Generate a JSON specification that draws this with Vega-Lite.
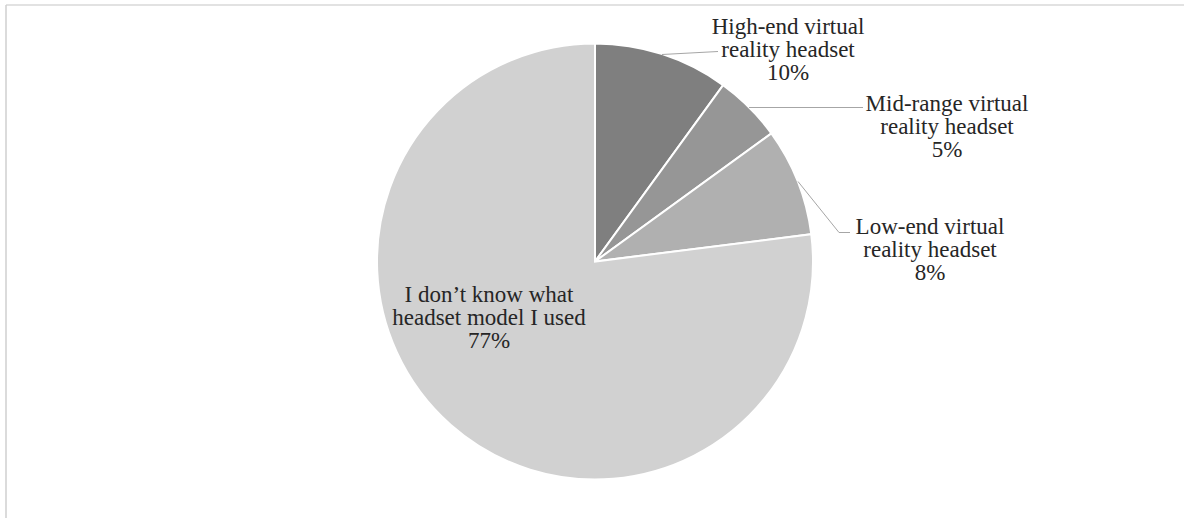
{
  "$schema": "https://vega.github.io/schema/vega-lite/v6.json",
  "width": 1178,
  "height": 513,
  "autosize": {"type": "none"},
  "padding": {"left": 6, "top": 5, "right": 0, "bottom": 0},
  "background": "white",
  "view": {"stroke": null},
  "config": {"view": {"stroke": null}},
  "data": {
    "values": [
      {"category": "High-end virtual reality headset", "value": 10, "rank": 1, "label": "High-end virtual\nreality headset\n10%"},
      {"category": "Mid-range virtual reality headset", "value": 5, "rank": 2, "label": "Mid-range virtual\nreality headset\n5%"},
      {"category": "Low-end virtual reality headset", "value": 8, "rank": 3, "label": "Low-end virtual\nreality headset\n8%"},
      {"category": "I don’t know what headset model I used", "value": 77, "rank": 4, "label": "I don’t know what\nheadset model I used\n77%"}
    ]
  },
  "layer": [
    {
      "transform": [{"filter": "datum.rank == 1"}],
      "mark": {"type": "rule", "color": "#d9d9d9", "strokeWidth": 1.5},
      "encoding": {
        "x": {"value": 0}, "x2": {"value": "width"}, "y": {"value": 0}
      }
    },
    {
      "transform": [{"filter": "datum.rank == 1"}],
      "mark": {"type": "rule", "color": "#cfcfcf", "strokeWidth": 1.5},
      "encoding": {
        "x": {"value": 0}, "y": {"value": 0}, "y2": {"value": "height"}
      }
    },
    {
      "mark": {"type": "arc", "radius": 218, "stroke": "white", "strokeWidth": 2},
      "encoding": {
        "theta": {"field": "value", "type": "quantitative", "stack": true},
        "order": {"field": "rank", "type": "quantitative", "sort": "ascending"},
        "color": {
          "field": "category",
          "type": "nominal",
          "scale": {
            "domain": ["High-end virtual reality headset", "Mid-range virtual reality headset", "Low-end virtual reality headset", "I don’t know what headset model I used"],
            "range": ["#7f7f7f", "#969696", "#b0b0b0", "#d1d1d1"]
          },
          "legend": null
        }
      }
    },
    {
      "transform": [{"filter": "datum.rank == 1"}],
      "mark": {"type": "rule", "color": "#a6a6a6", "strokeWidth": 1},
      "encoding": {
        "x": {"value": {"expr": "width/2+67"}}, "y": {"value": {"expr": "height/2-207"}},
        "x2": {"value": {"expr": "width/2+123"}}, "y2": {"value": {"expr": "height/2-210"}}
      }
    },
    {
      "transform": [{"filter": "datum.rank == 2"}],
      "mark": {"type": "rule", "color": "#a6a6a6", "strokeWidth": 1},
      "encoding": {
        "x": {"value": {"expr": "width/2+154"}}, "y": {"value": {"expr": "height/2-154"}},
        "x2": {"value": {"expr": "width/2+268"}}, "y2": {"value": {"expr": "height/2-154"}}
      }
    },
    {
      "transform": [{"filter": "datum.rank == 3"}],
      "mark": {"type": "rule", "color": "#a6a6a6", "strokeWidth": 1},
      "encoding": {
        "x": {"value": {"expr": "width/2+203"}}, "y": {"value": {"expr": "height/2-80"}},
        "x2": {"value": {"expr": "width/2+244"}}, "y2": {"value": {"expr": "height/2-29"}}
      }
    },
    {
      "transform": [{"filter": "datum.rank == 3"}],
      "mark": {"type": "rule", "color": "#a6a6a6", "strokeWidth": 1},
      "encoding": {
        "x": {"value": {"expr": "width/2+244"}}, "y": {"value": {"expr": "height/2-29"}},
        "x2": {"value": {"expr": "width/2+255"}}, "y2": {"value": {"expr": "height/2-29"}}
      }
    },
    {
      "transform": [{"filter": "datum.rank == 1"}],
      "mark": {"type": "text", "font": "Liberation Serif", "fontSize": 23, "lineHeight": 23, "lineBreak": "\n",
        "align": "center", "baseline": "middle", "color": "#262626", "dx": 193, "dy": -235},
      "encoding": {"text": {"field": "label", "type": "nominal"}}
    },
    {
      "transform": [{"filter": "datum.rank == 2"}],
      "mark": {"type": "text", "font": "Liberation Serif", "fontSize": 23, "lineHeight": 23, "lineBreak": "\n",
        "align": "center", "baseline": "middle", "color": "#262626", "dx": 352, "dy": -158},
      "encoding": {"text": {"field": "label", "type": "nominal"}}
    },
    {
      "transform": [{"filter": "datum.rank == 3"}],
      "mark": {"type": "text", "font": "Liberation Serif", "fontSize": 23, "lineHeight": 23, "lineBreak": "\n",
        "align": "center", "baseline": "middle", "color": "#262626", "dx": 335, "dy": -35},
      "encoding": {"text": {"field": "label", "type": "nominal"}}
    },
    {
      "transform": [{"filter": "datum.rank == 4"}],
      "mark": {"type": "text", "font": "Liberation Serif", "fontSize": 23, "lineHeight": 23, "lineBreak": "\n",
        "align": "center", "baseline": "middle", "color": "#262626", "dx": -106, "dy": 33},
      "encoding": {"text": {"field": "label", "type": "nominal"}}
    }
  ]
}
